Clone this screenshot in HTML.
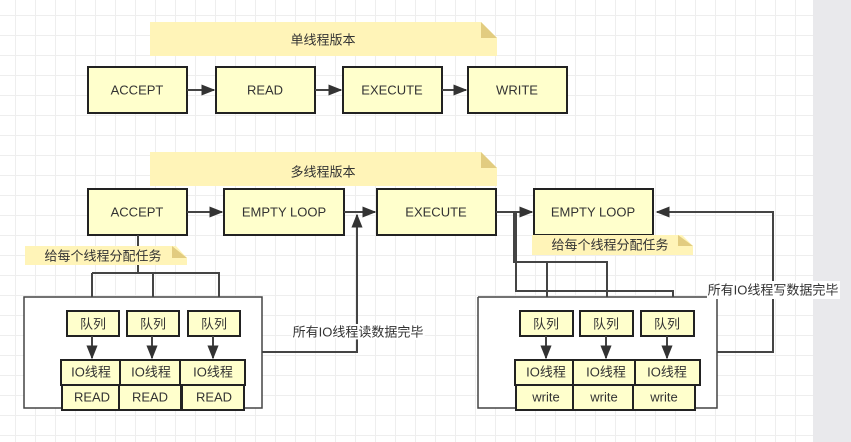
<!DOCTYPE html>
<html><head><meta charset="utf-8"><style>
body{margin:0;width:851px;height:442px;overflow:hidden;background:#fff;
background-image:linear-gradient(#eee 1px,transparent 1px),linear-gradient(90deg,#eee 1px,transparent 1px);background-size:20px 20px;background-position:-5px -5px;}
svg{position:absolute;left:0;top:0}
text{font-family:"Liberation Sans","Noto Sans CJK SC",sans-serif;font-size:13px;fill:#333;text-anchor:middle;dominant-baseline:central}
.b{fill:#ffffcc;stroke:#222;stroke-width:2}
.l{fill:none;stroke:#444;stroke-width:2}
</style></head><body>
<div style="position:absolute;left:813px;top:0;width:38px;height:442px;background:#e9e9ec"></div>
<svg width="851" height="442">
<defs><marker id="a" viewBox="0 0 10 10" refX="9" refY="5" markerWidth="7" markerHeight="7" orient="auto"><path d="M0,1 L10,5 L0,9z" fill="#333"/></marker></defs>
<path d="M150,22H481L497,38V56H150Z" fill="#fff4b8"/><path d="M481,22L497,38H481Z" fill="#e2cc80"/>
<text x="323" y="40">单线程版本</text>
<path d="M150,152H481L497,168V186H150Z" fill="#fff4b8"/><path d="M481,152L497,168H481Z" fill="#e2cc80"/>
<text x="323" y="172">多线程版本</text>
<rect class="b" x="88" y="67" width="99" height="46"/><text x="137" y="90">ACCEPT</text>
<rect class="b" x="216" y="67" width="99" height="46"/><text x="265" y="90">READ</text>
<rect class="b" x="343" y="67" width="99" height="46"/><text x="392" y="90">EXECUTE</text>
<rect class="b" x="468" y="67" width="99" height="46"/><text x="517" y="90">WRITE</text>
<path class="l" d="M187,90H214" marker-end="url(#a)"/><path class="l" d="M315,90H341" marker-end="url(#a)"/><path class="l" d="M442,90H466" marker-end="url(#a)"/>
<rect class="b" x="88" y="189" width="99" height="46"/><text x="137" y="212">ACCEPT</text>
<rect class="b" x="224" y="189" width="120" height="46"/><text x="284" y="212">EMPTY LOOP</text>
<rect class="b" x="377" y="189" width="119" height="46"/><text x="436" y="212">EXECUTE</text>
<rect class="b" x="534" y="189" width="119" height="46"/><text x="593" y="212">EMPTY LOOP</text>
<path class="l" d="M187,212H222" marker-end="url(#a)"/><path class="l" d="M344,212H375" marker-end="url(#a)"/><path class="l" d="M496,212H532" marker-end="url(#a)"/>
<path class="l" d="M138,235V273M92,273H219V309"/>
<path class="l" d="M92,273V309" marker-end="url(#a)"/><path class="l" d="M153,273V309" marker-end="url(#a)"/><path class="l" d="M219,273V309" marker-end="url(#a)"/>
<path d="M25,246H176L187,258V265H25Z" fill="#fff4b8"/><path d="M172,246L187,258H172Z" fill="#e2cc80"/>
<text x="103" y="256">给每个线程分配任务</text>
<rect x="24" y="297" width="238" height="111" fill="#fff" stroke="#444" stroke-width="1.5"/>
<path class="l" d="M262,352H357V215" marker-end="url(#a)"/>
<text x="358" y="332" style="paint-order:stroke;stroke:#fff;stroke-width:4">所有IO线程读数据完毕</text>
<rect class="b" x="67" y="311" width="52" height="25"/><text x="93" y="324">队列</text>
<rect class="b" x="127" y="311" width="52" height="25"/><text x="153" y="324">队列</text>
<rect class="b" x="188" y="311" width="52" height="25"/><text x="214" y="324">队列</text>
<path class="l" d="M92,336V358" marker-end="url(#a)"/><path class="l" d="M152,336V358" marker-end="url(#a)"/><path class="l" d="M213,336V358" marker-end="url(#a)"/>
<rect class="b" x="61" y="360" width="59" height="25"/><text x="91" y="372">IO线程</text>
<rect class="b" x="120" y="360" width="60" height="25"/><text x="151" y="372">IO线程</text>
<rect class="b" x="180" y="360" width="65" height="25"/><text x="213" y="372">IO线程</text>
<rect class="b" x="62" y="385" width="57" height="25"/><text x="92" y="397">READ</text>
<rect class="b" x="119" y="385" width="62" height="25"/><text x="150" y="397">READ</text>
<rect class="b" x="182" y="385" width="62" height="25"/><text x="214" y="397">READ</text>
<path class="l" d="M514,212V262H607V309"/><path class="l" d="M607,262V309" marker-end="url(#a)"/>
<path class="l" d="M547,262V309" marker-end="url(#a)"/>
<path class="l" d="M516,212V291H673V309" marker-end="url(#a)"/>
<path d="M532,235H682L693,246V255H532Z" fill="#fff4b8"/><path d="M678,235L693,246H678Z" fill="#e2cc80"/>
<text x="610" y="245">给每个线程分配任务</text>
<path d="M478,297H707M717,297V408H478V297" fill="#fff" stroke="#444" stroke-width="1.5"/>
<path class="l" d="M717,352H773V212H657" marker-end="url(#a)"/>
<rect x="707" y="281" width="133" height="18" fill="#fff"/>
<text x="773" y="290">所有IO线程写数据完毕</text>
<rect class="b" x="520" y="311" width="53" height="25"/><text x="546" y="324">队列</text>
<rect class="b" x="580" y="311" width="53" height="25"/><text x="606" y="324">队列</text>
<rect class="b" x="641" y="311" width="53" height="25"/><text x="667" y="324">队列</text>
<path class="l" d="M546,336V358" marker-end="url(#a)"/><path class="l" d="M606,336V358" marker-end="url(#a)"/><path class="l" d="M667,336V358" marker-end="url(#a)"/>
<rect class="b" x="515" y="360" width="58" height="25"/><text x="546" y="372">IO线程</text>
<rect class="b" x="573" y="360" width="62" height="25"/><text x="606" y="372">IO线程</text>
<rect class="b" x="635" y="360" width="65" height="25"/><text x="667" y="372">IO线程</text>
<rect class="b" x="516" y="385" width="57" height="25"/><text x="546" y="397">write</text>
<rect class="b" x="573" y="385" width="60" height="25"/><text x="604" y="397">write</text>
<rect class="b" x="633" y="385" width="62" height="25"/><text x="664" y="397">write</text>
</svg>
</body></html>
